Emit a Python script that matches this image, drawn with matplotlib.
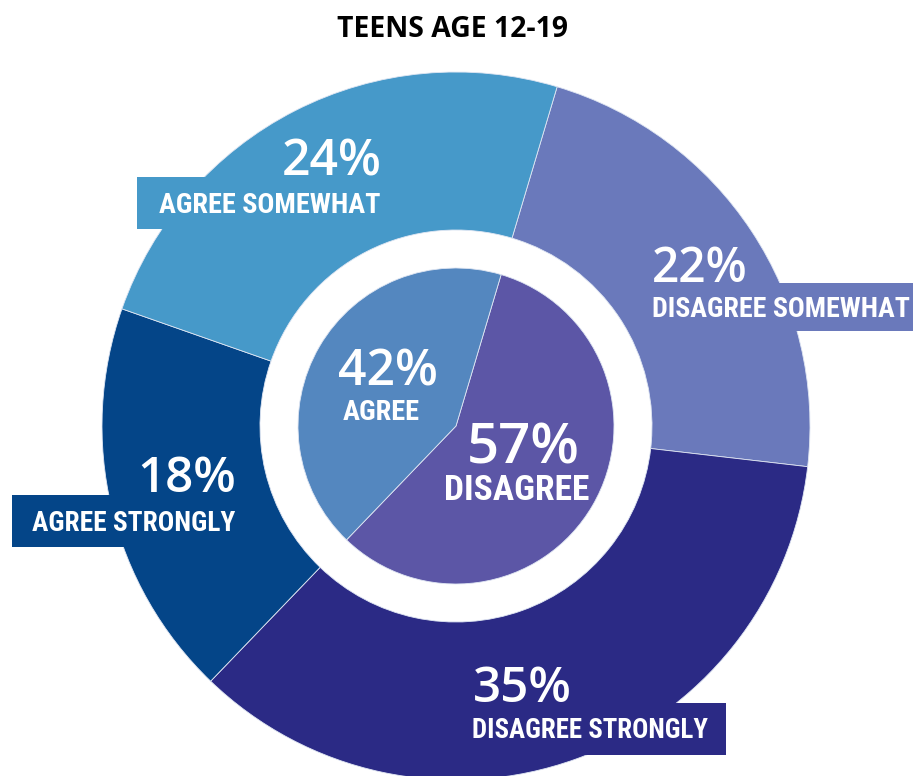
import matplotlib
matplotlib.use("Agg")
import matplotlib.pyplot as plt
import matplotlib.font_manager as fm
from matplotlib.patches import Rectangle

# Survey data: teens age 12-19
title = "TEENS AGE 12-19"

outer_labels = ["DISAGREE SOMEWHAT", "DISAGREE STRONGLY", "AGREE STRONGLY", "AGREE SOMEWHAT"]
outer_values = [22, 35, 18, 24]
outer_colors = ["#6A79BB", "#2B2A85", "#044588", "#4699C9"]

inner_labels = ["DISAGREE", "AGREE"]
inner_values = [57, 42]
inner_colors = ["#5C56A6", "#5487BF"]

W, H = 913, 776
fig = plt.figure(figsize=(W / 100, H / 100), dpi=100)
ax = fig.add_axes([0, 0, 1, 1])


def py(y):
    """Convert a top-down pixel row to axis y."""
    return H - y


def weight_num(w):
    if isinstance(w, str):
        return fm.weight_dict.get(w, 400)
    return w


def find_condensed_bold():
    """Locate a bold narrow/condensed face among the installed fonts."""
    prefs = ["LiberationSansNarrow", "RobotoCondensed", "OpenSansCondensed",
             "NotoSans-Condensed", "NotoSansCondensed", "DejaVuSansCondensed",
             "Condensed", "Narrow"]
    found = []
    for f in fm.fontManager.ttflist:
        name = f.fname.replace(" ", "").replace("_", "")
        base = name.split("/")[-1]
        if "Italic" in base or "Oblique" in base:
            continue
        narrow = ("ondensed" in base or "arrow" in base
                  or f.stretch in ("condensed", "semi-condensed", "extra-condensed", "narrow"))
        if not narrow:
            continue
        if weight_num(f.weight) < 600 or weight_num(f.weight) > 750:
            continue
        if "Extra" in base or "Ultra" in base or "Semi" in base.replace("SemiBold", ""):
            continue
        for rank, p in enumerate(prefs):
            if p in base:
                found.append((rank, base, f.fname))
                break
    if found:
        found.sort()
        return fm.FontProperties(fname=found[0][2])
    return fm.FontProperties(family="DejaVu Sans", weight="bold")


label_fp = find_condensed_bold()

cx, cy = 456, 426
r_out, r_hole, r_in = 354, 196, 158
start = 90 - 16.6

edge = dict(edgecolor="#dfe6f3", linewidth=0.6)
ax.pie(outer_values, colors=outer_colors, radius=r_out, center=(cx, py(cy)),
       startangle=start, counterclock=False,
       wedgeprops=dict(width=r_out - r_hole, **edge))
ax.pie(inner_values, colors=inner_colors, radius=r_in, center=(cx, py(cy)),
       startangle=start, counterclock=False, wedgeprops=edge)

ax.set_xlim(0, W)
ax.set_ylim(0, H)
ax.set_aspect("equal")
ax.axis("off")

# label tabs that extend past the ring
tabs = {
    "AGREE SOMEWHAT": (137, 177, 400, 229),
    "DISAGREE SOMEWHAT": (645, 283, 913, 331),
    "AGREE STRONGLY": (12, 495, 250, 547),
    "DISAGREE STRONGLY": (440, 703, 726, 755),
}
for lab, (x0, y0, x1, y1) in tabs.items():
    col = outer_colors[outer_labels.index(lab)]
    ax.add_patch(Rectangle((x0, py(y1)), x1 - x0, y1 - y0, facecolor=col,
                           edgecolor="none", zorder=3))

renderer = fig.canvas.get_renderer()


def fitted_text(x, y, s, size, width, fp=None, **kw):
    """Place centred text and tune its size so it spans the given pixel width."""
    if fp is not None:
        t = ax.text(x, y, s, ha="center", va="baseline", fontproperties=fp.copy(), **kw)
    else:
        t = ax.text(x, y, s, ha="center", va="baseline", **kw)
    t.set_fontsize(size)
    w = t.get_window_extent(renderer).width
    if w > 0:
        k = min(max(width / w, 0.75), 1.12)
        t.set_fontsize(size * k)
    return t


pct_kw = dict(family=["Open Sans", "DejaVu Sans"], fontweight="semibold",
              color="white", zorder=5)
lab_kw = dict(color="white", zorder=5)

# (percent x, baseline, width, label x, baseline, width)
outer_pos = {
    "DISAGREE SOMEWHAT": (700, 282, 96, 781, 317, 258),
    "DISAGREE STRONGLY": (522, 702, 99, 590, 738, 236),
    "AGREE STRONGLY": (187, 492, 99, 134, 531, 202),
    "AGREE SOMEWHAT": (332, 176, 100, 270, 213, 221),
}
for lab, val in zip(outer_labels, outer_values):
    px_, pyb, pw, lx, lyb, lw = outer_pos[lab]
    fitted_text(px_, py(pyb), f"{val}%", 39, pw, **pct_kw)
    fitted_text(lx, py(lyb), lab, 22, lw, fp=label_fp, **lab_kw)

inner_pos = {
    "DISAGREE": (523, 463, 45, 113, 517, 500, 24, 145),
    "AGREE": (388, 386, 39, 100, 381, 420, 20, 77),
}
for lab, val in zip(inner_labels, inner_values):
    px_, pyb, ps, pw, lx, lyb, ls, lw = inner_pos[lab]
    fitted_text(px_, py(pyb), f"{val}%", ps, pw, **pct_kw)
    fitted_text(lx, py(lyb), lab, ls, lw, fp=label_fp, **lab_kw)

fitted_text(452, py(37), title, 21, 231, family=["Open Sans", "DejaVu Sans"],
            fontweight="bold", color="black")

fig.savefig("out.png", dpi=100)
